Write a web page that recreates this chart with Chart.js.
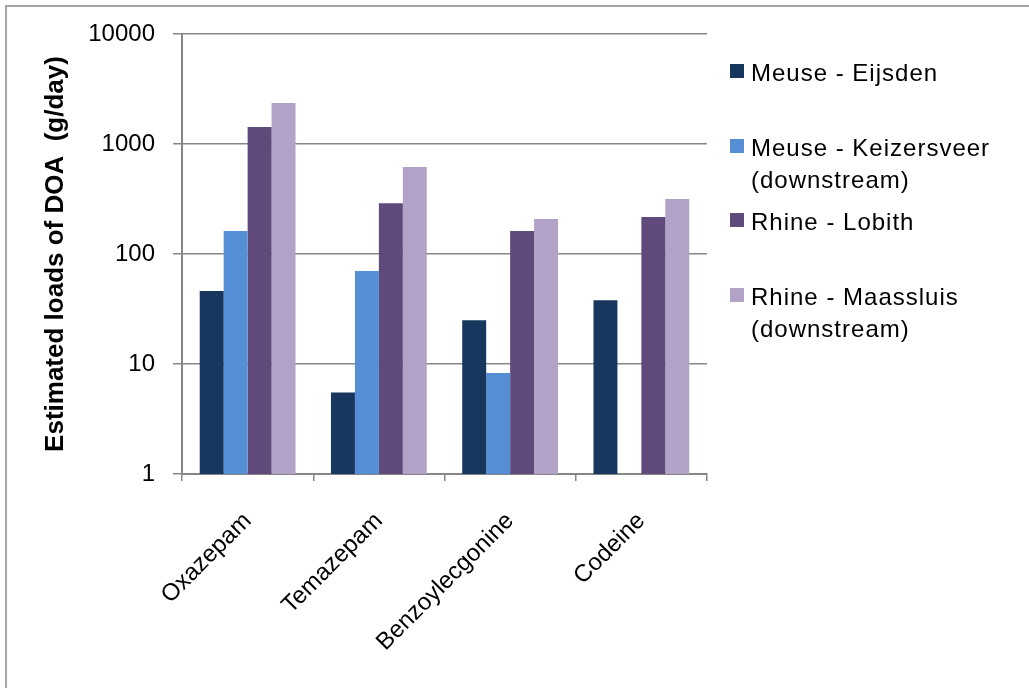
<!DOCTYPE html>
<html>
<head>
<meta charset="utf-8">
<script src="https://cdn.jsdelivr.net/npm/chart.js@4"></script>
<style>
  body { margin: 0; background: #fff; overflow: hidden; }
  #frame { position: absolute; left: 5px; top: 5px; width: 1200px; height: 900px; border: 2px solid #a6a6a6; }
  #wrap { position: absolute; left: 0; top: 0; width: 1029px; height: 688px; }
  #legend { position: absolute; left: 0; top: 0; font-family: "Liberation Sans", Arial, sans-serif; font-size: 24px; line-height: 32px; color: #000; letter-spacing: 1px; }
  .item { position: absolute; left: 730px; white-space: nowrap; }
  .box { position: absolute; left: 0; top: 7px; width: 14px; height: 14px; }
  .txt { position: absolute; left: 21px; top: 0; }
</style>
</head>
<body>
<div id="frame"></div>
<div id="wrap"><canvas id="doaChart"></canvas></div>
<div id="legend"></div>
<script>
const categories = ["Oxazepam", "Temazepam", "Benzoylecgonine", "Codeine"];
const seriesNames = [
  ["Meuse - Eijsden"],
  ["Meuse - Keizersveer", "(downstream)"],
  ["Rhine - Lobith"],
  ["Rhine - Maassluis", "(downstream)"],
];
const seriesColors = ["#17375e", "#558ed5", "#604a7b", "#b3a2c7"];
const eijsden = [46, 5.5, 25, 38];
const keizersveer = [162, 70, 8.3, null];
const lobith = [1430, 290, 162, 217];
const maassluis = [2360, 618, 208, 316];
const yTicks = [1, 10, 100, 1000, 10000];

// legend rows (top of first line box)
const legendTops = [57, 132, 206, 281];

function buildLegend() {
  const el = document.getElementById("legend");
  seriesNames.forEach((lines, i) => {
    const item = document.createElement("div");
    item.className = "item";
    item.style.top = legendTops[i] + "px";
    const box = document.createElement("div");
    box.className = "box";
    box.style.background = seriesColors[i];
    const txt = document.createElement("div");
    txt.className = "txt";
    txt.innerHTML = lines.join("<br>");
    item.appendChild(box);
    item.appendChild(txt);
    el.appendChild(item);
  });
}

function createDoaChart() {
  const values = [eijsden, keizersveer, lobith, maassluis];
  const data = {
    labels: categories,
    datasets: values.map((v, i) => ({
      label: seriesNames[i].join(" "),
      data: v,
      backgroundColor: seriesColors[i],
      borderWidth: 0,
      categoryPercentage: 0.73,
      barPercentage: 1.0,
    })),
  };

  const fontFamily = "'Liberation Sans', Arial, sans-serif";
  const gridColor = "#868686";

  const config = {
    type: "bar",
    data: data,
    options: {
      responsive: true,
      maintainAspectRatio: false,
      animation: false,
      layout: { padding: { top: 34, right: 322, left: 0, bottom: 0 } },
      plugins: {
        legend: { display: false },
        tooltip: { enabled: false },
      },
      scales: {
        x: {
          grid: {
            offset: true,
            drawOnChartArea: false,
            drawTicks: true,
            tickLength: 7,
            color: gridColor,
            lineWidth: 1.5,
          },
          border: { color: gridColor, width: 2 },
          ticks: {
            color: "#000",
            font: { family: fontFamily, size: 24 },
            minRotation: 45,
            maxRotation: 45,
            autoSkip: false,
            padding: 26,
          },
          afterFit: (scale) => { scale.height = 214; },
        },
        y: {
          type: "logarithmic",
          min: 1,
          max: 10000,
          grid: {
            color: gridColor,
            lineWidth: 1.5,
            drawTicks: true,
            tickLength: 9,
          },
          border: { color: gridColor, width: 2 },
          ticks: {
            color: "#000",
            font: { family: fontFamily, size: 24 },
            padding: 18,
            callback: (value) => String(value),
          },
          afterBuildTicks: (scale) => {
            scale.ticks = yTicks.map((v) => ({ value: v }));
          },
          title: {
            display: true,
            text: "Estimated loads of DOA  (g/day)",
            color: "#000",
            font: { family: fontFamily, size: 26, weight: "bold" },
            padding: { top: 40, bottom: 0 },
          },
          afterFit: (scale) => { scale.width = 182; },
        },
      },
    },
  };

  const ctx = document.getElementById("doaChart");
  new Chart(ctx, config);
}

document.addEventListener("DOMContentLoaded", () => {
  buildLegend();
  createDoaChart();
});
</script>
</body>
</html>
